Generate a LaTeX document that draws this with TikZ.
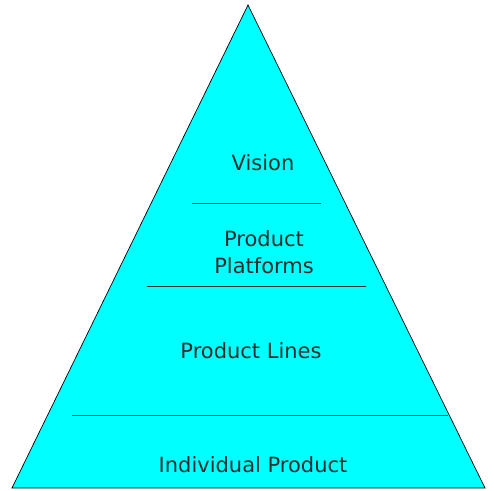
\documentclass[tikz,border=0pt]{standalone}
\usepackage{fontspec}
\setmainfont{DejaVu Sans}
\usetikzlibrary{positioning}

\definecolor{layercyan}{RGB}{0,255,255}
\definecolor{labelgray}{RGB}{45,45,45}

\begin{document}
\begin{tikzpicture}[x=1pt,y=-1pt,
  layer/.style={text=labelgray,font=\fontsize{21}{27}\selectfont,align=center},
  divider/.style={draw=black!80,line width=0.7pt}]
\useasboundingbox (0,0) rectangle (494,490);

%pyramid
\draw[fill=layercyan,line width=0.7pt]
(248,5)--(485,488)--(12,488)--cycle;

% dividing lines
\draw[divider] (192,203)--(321,203);
\draw[divider] (147,286)--(366,286);
\draw[divider] (72,415)--(448,415);

% labels
\node[layer,anchor=base] (vision) at (263,170.5) {Vision};
\node[layer] (platforms) at (264,252.5) {Product\\Platforms};
\node[layer,anchor=base] (lines) at (251,358) {Product Lines};
\node[layer,anchor=base] (individual) at (253,472.5) {Individual Product};

\end{tikzpicture}
\end{document}
